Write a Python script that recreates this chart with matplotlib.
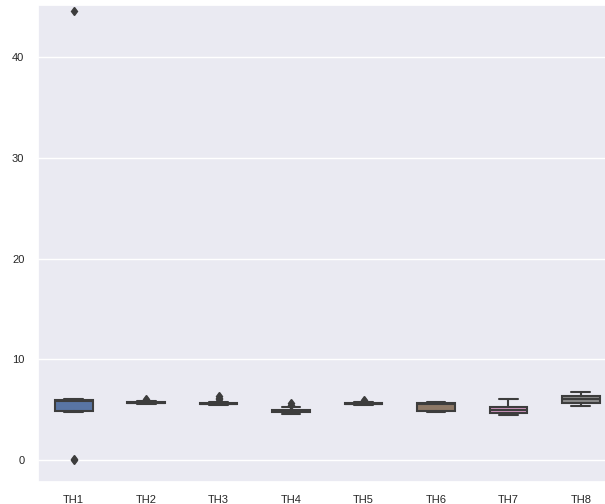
import matplotlib
matplotlib.use("Agg")
import matplotlib.pyplot as plt
import seaborn as sns

sns.set_theme(style="darkgrid")
plt.rcParams['font.family'] = ['Liberation Sans', 'DejaVu Sans']

# Summary statistics for each series
labels = ["TH1", "TH2", "TH3", "TH4", "TH5", "TH6", "TH7", "TH8"]
whislo = [4.70, 5.50, 5.40, 4.55, 5.45, 4.75, 4.45, 5.35]
q1 = [4.80, 5.60, 5.50, 4.70, 5.50, 4.80, 4.65, 5.65]
med = [5.85, 5.65, 5.55, 4.80, 5.55, 5.55, 4.90, 6.00]
q3 = [5.90, 5.72, 5.60, 4.95, 5.62, 5.60, 5.25, 6.35]
whishi = [6.05, 5.80, 5.70, 5.20, 5.70, 5.75, 6.05, 6.75]
fliers = [
    [44.6, 0.0, 0.08],
    [5.95, 6.05],
    [5.85, 6.0, 6.15, 6.3],
    [5.45, 5.6],
    [5.85, 5.95],
    [],
    [],
    [],
]

stats = [
    dict(label=l, whislo=a, q1=b, med=c, q3=d, whishi=e, fliers=f)
    for l, a, b, c, d, e, f in zip(labels, whislo, q1, med, q3, whishi, fliers)
]

fig = plt.figure(figsize=(6.05, 5.04), dpi=100)
ax = fig.add_axes([0.062, 0.044, 0.958, 0.946])

palette = sns.color_palette("deep", 8, desat=0.75)
line_color = (0.24, 0.24, 0.24)

bp = ax.bxp(
    stats, positions=range(len(labels)), widths=0.52, patch_artist=True,
    boxprops=dict(edgecolor=line_color, linewidth=1.5),
    whiskerprops=dict(color=line_color, linewidth=1.5),
    capprops=dict(color=line_color, linewidth=1.5),
    medianprops=dict(color=line_color, linewidth=1.5),
    flierprops=dict(marker="d", markerfacecolor=line_color,
                    markeredgecolor=line_color, markersize=4.5),
)
for patch, col in zip(bp["boxes"], palette):
    patch.set_facecolor(col)

ax.set_xlim(-0.5, 7.5)
ax.set_ylim(-2.2, 45.2)
ax.set_yticks([0, 10, 20, 30, 40])
ax.set_xticks(range(len(labels)))
ax.set_xticklabels(labels)
ax.xaxis.grid(False)
ax.tick_params(labelsize=8, colors=(0.15, 0.15, 0.15))

fig.savefig("out.png", dpi=100)
